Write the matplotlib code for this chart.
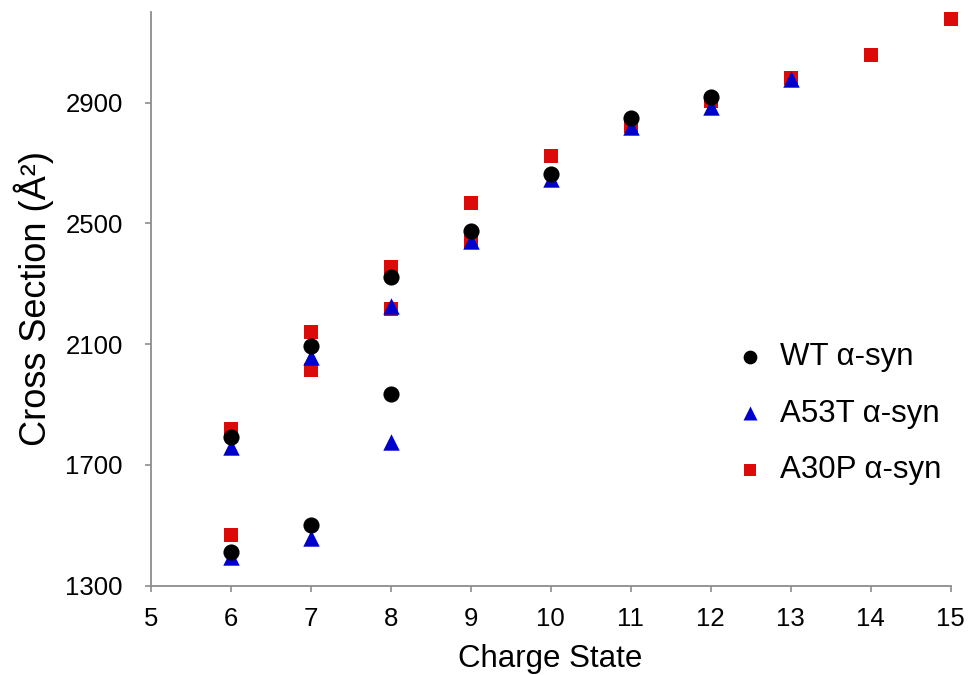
import matplotlib
matplotlib.use("Agg")
import matplotlib.pyplot as plt

plt.rcParams['font.family'] = ['Liberation Sans', 'DejaVu Sans']

# charge states and cross sections (A^2)
wt_z = [6, 6, 7, 7, 8, 8, 9, 10, 11, 12]
wt_cs = [1791, 1410, 2093, 1502, 2322, 1934, 2475, 2664, 2850, 2920]

a53t_z = [6, 6, 7, 7, 8, 8, 9, 10, 11, 12, 13]
a53t_cs = [1761, 1396, 2057, 1459, 2226, 1775, 2442, 2648, 2820, 2886, 2980]

a30p_z = [6, 6, 7, 7, 8, 8, 9, 9, 10, 11, 12, 13, 14, 15]
a30p_cs = [1818, 1469, 2140, 2013, 2355, 2216, 2568, 2440, 2724, 2823, 2906, 2983, 3059, 3178]

xticks = list(range(5, 16))
yticks = [1300, 1700, 2100, 2500, 2900]

fig = plt.figure(figsize=(9.68, 6.75), dpi=100)
ax = fig.add_axes([0.1557, 0.1323, 0.982 - 0.1557, 0.982 - 0.1323])

ax.scatter(a30p_z, a30p_cs, marker='s', s=115, color='#DD0A0A', lw=0, zorder=2,
           clip_on=False, label=u'A30P \u03b1-syn')
ax.scatter(a53t_z, a53t_cs, marker='^', s=140, color='#0000CC', lw=0, zorder=3,
           clip_on=False, label=u'A53T \u03b1-syn')
ax.scatter(wt_z, wt_cs, marker='o', s=135, color='black', lw=0, zorder=4,
           clip_on=False, label=u'WT \u03b1-syn')

ax.set_xlim(5, 15)
ax.set_ylim(1300, 3200)
ax.set_xticks(xticks)
ax.set_yticks(yticks)

for side in ['top', 'right']:
    ax.spines[side].set_visible(False)
for side in ['left', 'bottom']:
    ax.spines[side].set_color('#8c8c8c')
    ax.spines[side].set_linewidth(1.3)
    ax.spines[side].set_zorder(1)
ax.tick_params(colors='#8c8c8c', labelcolor='black', labelsize=18.5, length=4, width=1.2)
ax.tick_params(axis='x', pad=11)
ax.tick_params(axis='y', pad=16)

ax.set_xlabel('Charge State', fontsize=22.5, labelpad=10)
ax.set_ylabel(u'Cross Section (\u00c5\u00b2)', fontsize=26, labelpad=8)

h, l = ax.get_legend_handles_labels()
leg = ax.legend(h[::-1], l[::-1], loc='center left', bbox_to_anchor=(0.695, 0.30),
                frameon=False, fontsize=22.5, labelspacing=0.85, handletextpad=0.45,
                handlelength=1.0, markerscale=0.85)

fig.savefig('out.png', dpi=100)
